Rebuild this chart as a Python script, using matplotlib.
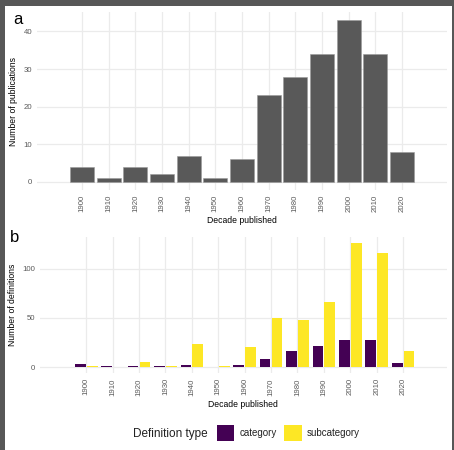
import matplotlib.pyplot as plt
from matplotlib.patches import Rectangle, Patch

plt.rcParams['font.family'] = ['Liberation Sans', 'DejaVu Sans']

decades = [1900, 1910, 1920, 1930, 1940, 1950, 1960, 1970, 1980, 1990, 2000, 2010, 2020]
publications = [4, 1, 4, 2, 7, 1, 6, 23, 28, 34, 43, 34, 8]
category = [3, 1, 1, 1, 2, 0, 2, 8, 16, 21, 27, 27, 4]
subcategory = [1, 0, 5, 1, 23, 1, 20, 50, 48, 66, 126, 116, 16]

GRID = '#ebebeb'
TICK = '#5a5a5a'
VIRIDIS = ['#440154', '#fde725']


def style_axes(ax):
    ax.set_facecolor('none')
    for s in ax.spines.values():
        s.set_visible(False)
    ax.grid(True, color=GRID, linewidth=0.9)
    ax.set_axisbelow(True)
    ax.tick_params(length=0, labelsize=5.6, labelcolor=TICK, pad=3.5)
    ax.set_xticks(decades)
    ax.set_xticklabels([str(d) for d in decades], rotation=90)
    ax.set_xlabel('Decade published', fontsize=6.2, labelpad=3)


fig = plt.figure(figsize=(4.54, 4.5), dpi=100, facecolor='#575757')
fig.patches.append(Rectangle((5 / 454, 0), 447 / 454, 444 / 450,
                             transform=fig.transFigure, facecolor='white',
                             edgecolor='none', zorder=-5))

# a: publications per decade
ax1 = fig.add_axes([37 / 454, 1 - 190 / 450, 410 / 454, 178 / 450])
style_axes(ax1)
ax1.bar(decades, publications, width=9, color='#595959', edgecolor='#9a9a9a', linewidth=0.4)
ax1.set_xlim(1883.1, 2036.9)
ax1.set_ylim(-2.15, 45.15)
ax1.set_yticks([0, 10, 20, 30, 40])
ax1.set_ylabel('Number of publications', fontsize=6.2, labelpad=4)

# b: definitions per decade, dodged by type
ax2 = fig.add_axes([40 / 454, 1 - 373.3 / 450, 406.7 / 454, 136.6 / 450])
style_axes(ax2)
ax2.bar([d - 2.25 for d in decades], category, width=4.05, color=VIRIDIS[0])
ax2.bar([d + 2.25 for d in decades], subcategory, width=4.05, color=VIRIDIS[1])
ax2.set_xlim(1882.5, 2036.5)
ax2.set_ylim(-6.3, 132.3)
ax2.set_yticks([0, 50, 100])
ax2.set_ylabel('Number of definitions', fontsize=6.2, labelpad=4)

fig.text(13 / 454, 1 - 19 / 450, 'a', fontsize=12, va='center', ha='left')
fig.text(10 / 454, 1 - 238 / 450, 'b', fontsize=12, va='center', ha='left')

# legend along the bottom
fig.text(133 / 454, 1 - 434 / 450, 'Definition type', fontsize=8.5, va='center', ha='left',
         color='#222222')
handles = [Patch(facecolor=VIRIDIS[0], label='category'),
           Patch(facecolor=VIRIDIS[1], label='subcategory')]
fig.legend(handles=handles, loc='center left', bbox_to_anchor=(212 / 454, 1 - 433 / 450),
           ncol=2, frameon=False, fontsize=7, handlelength=1.8, handleheight=2.3,
           handletextpad=0.5, columnspacing=0.8, borderpad=0, labelcolor='#222222')

fig.savefig('out.png', dpi=100, facecolor=fig.get_facecolor())
